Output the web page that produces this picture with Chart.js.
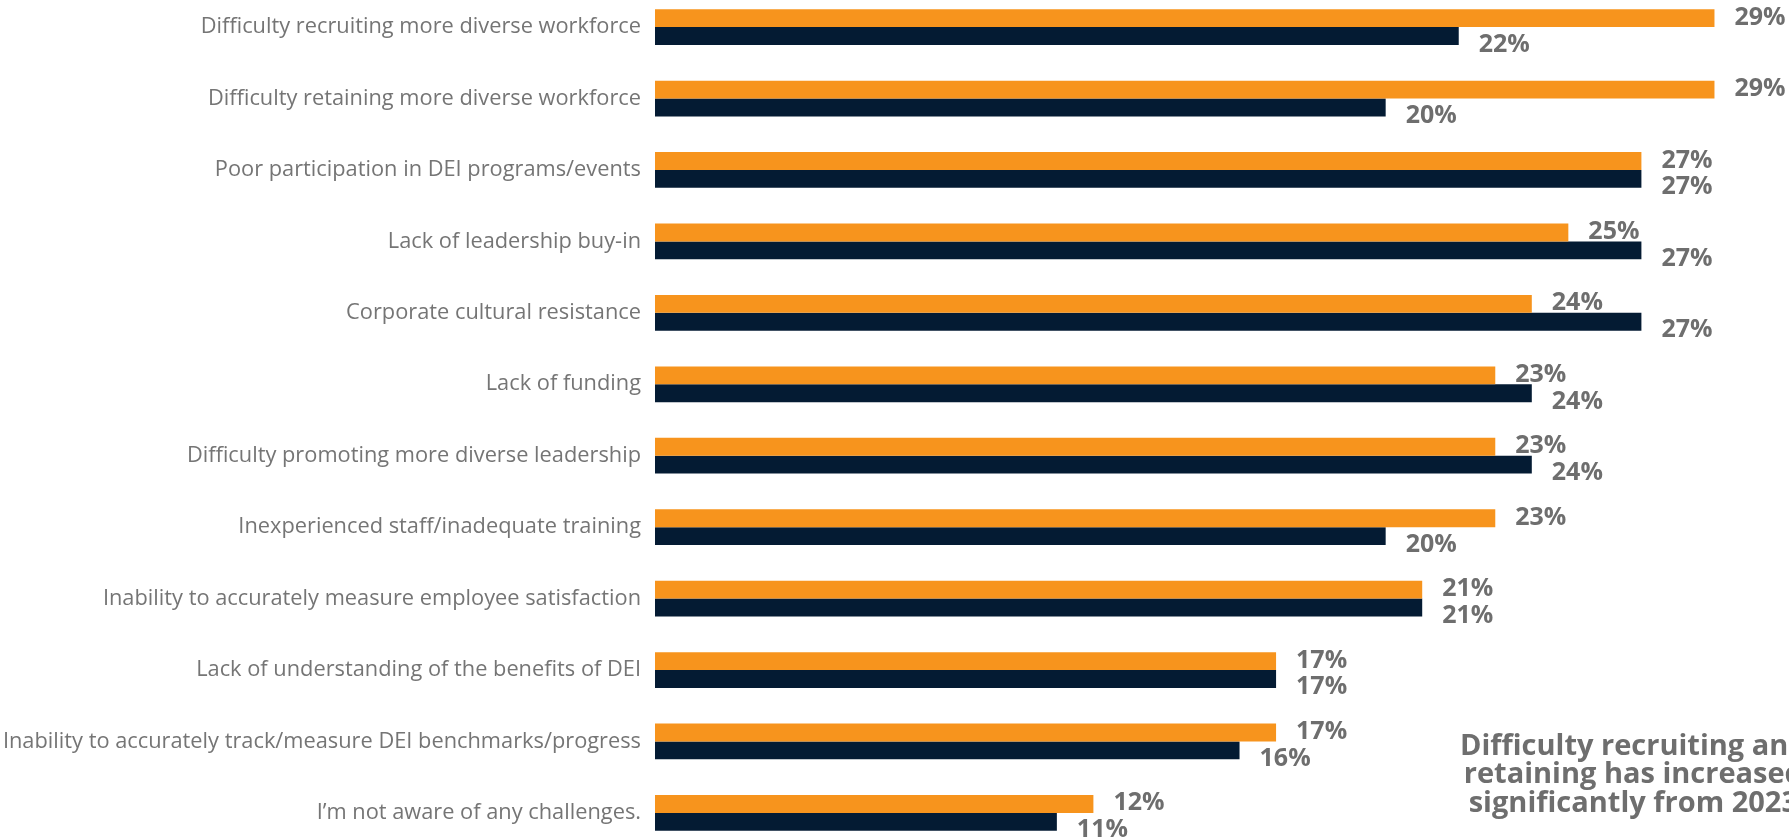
<!DOCTYPE html>
<html>
<head>
<meta charset="utf-8">
<title>DEI challenges</title>
<script src="https://cdn.jsdelivr.net/npm/chart.js@4/dist/chart.umd.min.js"></script>
<style>
  html, body { margin: 0; padding: 0; background: #fff; }
  #wrap { width: 1789px; height: 840px; }
</style>
</head>
<body>
<div id="wrap"><canvas id="deiChart" width="1789" height="840"></canvas></div>
<script>
// --- Data ---
const challenges = [
  'Difficulty recruiting more diverse workforce',
  'Difficulty retaining more diverse workforce',
  'Poor participation in DEI programs/events',
  'Lack of leadership buy-in',
  'Corporate cultural resistance',
  'Lack of funding',
  'Difficulty promoting more diverse leadership',
  'Inexperienced staff/inadequate training',
  'Inability to accurately measure employee satisfaction',
  'Lack of understanding of the benefits of DEI',
  'Inability to accurately track/measure DEI benchmarks/progress',
  'I\u2019m not aware of any challenges.'
];
const values2024 = [29, 29, 27, 25, 24, 23, 23, 23, 21, 17, 17, 12];
const values2023 = [22, 20, 27, 27, 27, 24, 24, 20, 21, 17, 16, 11];
const noteLines = [
  'Difficulty recruiting and',
  'retaining has increased',
  'significantly from 2023'
];

const ORANGE = '#F7941D';
const NAVY = '#041B33';
const GREY = '#6e6e6e';
const FONT = '"Open Sans", Lato, sans-serif';

// percentage labels at the end of each bar
const valueLabels = {
  id: 'valueLabels',
  afterDatasetsDraw(chart) {
    const ctx = chart.ctx;
    ctx.save();
    ctx.font = 'bold 25px ' + FONT;
    ctx.fillStyle = GREY;
    ctx.textAlign = 'left';
    ctx.textBaseline = 'alphabetic';
    chart.data.datasets.forEach((ds, i) => {
      const meta = chart.getDatasetMeta(i);
      const dy = i === 0 ? 6.5 : 15.5;
      meta.data.forEach((bar, j) => {
        ctx.fillText(ds.data[j] + '%', bar.x + 20, bar.y + dy);
      });
    });
    ctx.restore();
  }
};

// callout text in the lower right corner
const callout = {
  id: 'callout',
  afterDraw(chart) {
    const ctx = chart.ctx;
    ctx.save();
    ctx.font = 'bold 29px ' + FONT;
    ctx.fillStyle = GREY;
    ctx.textAlign = 'center';
    ctx.textBaseline = 'alphabetic';
    const cx = 1460 + ctx.measureText(noteLines[0]).width / 2;
    noteLines.forEach((line, i) => {
      ctx.fillText(line, cx, 755 + i * 28.4);
    });
    ctx.restore();
  }
};

const ctx = document.getElementById('deiChart').getContext('2d');
new Chart(ctx, {
  type: 'bar',
  data: {
    labels: challenges,
    datasets: [
      { label: '2024', data: values2024, backgroundColor: ORANGE, clip: false },
      { label: '2023', data: values2023, backgroundColor: NAVY, clip: false }
    ]
  },
  options: {
    indexAxis: 'y',
    responsive: false,
    animation: false,
    devicePixelRatio: 1,
    categoryPercentage: 0.5,
    barPercentage: 1,
    layout: { padding: { top: 25, bottom: 27, left: 0, right: 0 } },
    plugins: {
      legend: { display: false },
      tooltip: { enabled: false }
    },
    scales: {
      x: { display: false, min: 0, max: 31.04 },
      y: {
        offset: false,
        grid: { display: false, drawTicks: false },
        border: { display: false },
        ticks: {
          padding: 14,
          color: '#757575',
          autoSkip: false,
          font: { family: FONT, size: 21.8, weight: '400' }
        },
        afterFit(scale) { scale.width = 655; }
      }
    }
  },
  plugins: [valueLabels, callout]
});
</script>
</body>
</html>
